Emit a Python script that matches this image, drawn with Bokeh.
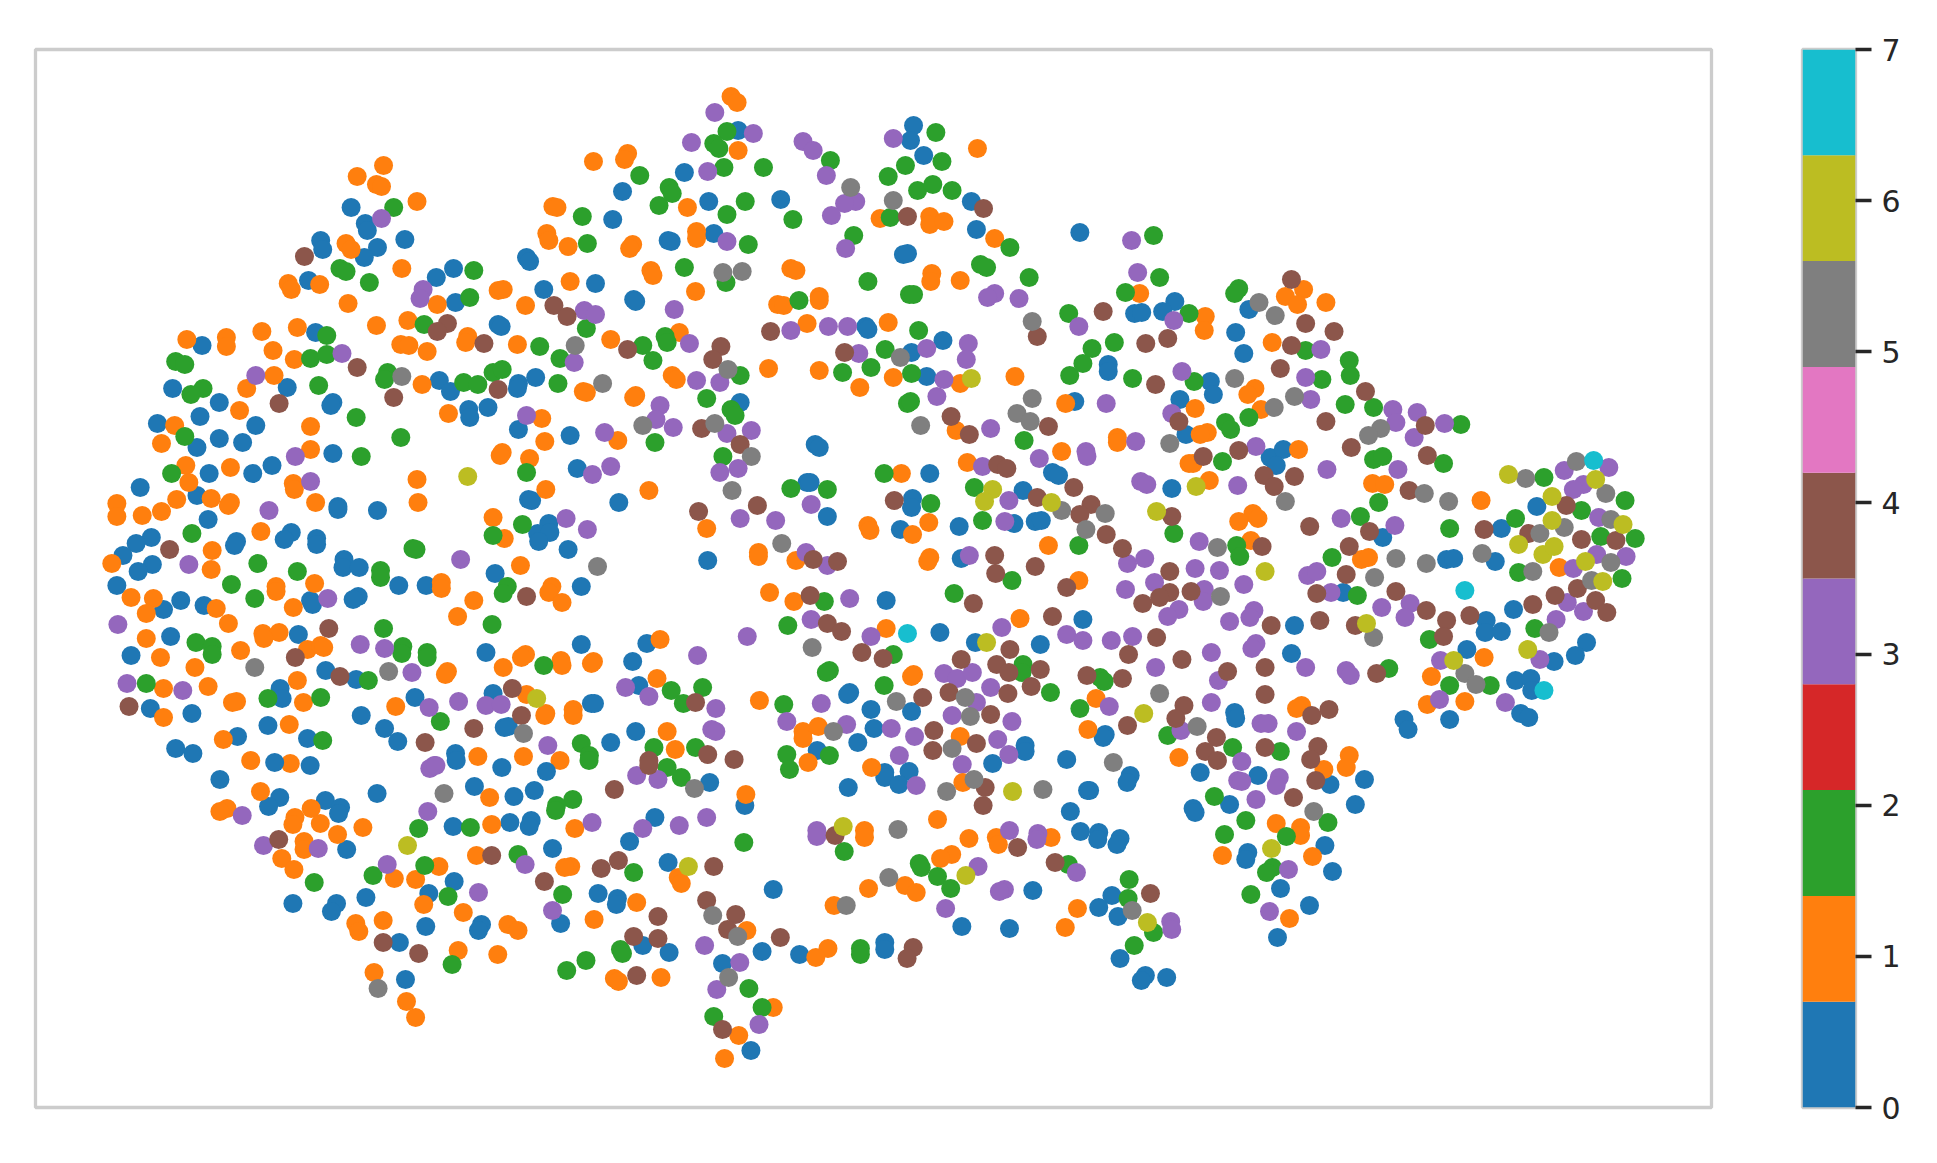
from bokeh.embed import file_html
from bokeh.layouts import row
from bokeh.models import ColumnDataSource, FixedTicker, Range1d
from bokeh.plotting import figure
from bokeh.resources import INLINE

t1_0 = [(347,207),(361,223),(363,230),(317,240),(319,249),(373,247),(360,257),(400,239),(448,268),(431,277),(305,280),(450,302),(492,324),(495,326),(520,257),(523,261),(537,289),(588,283),(605,219),(312,332),(200,345),(171,388),(217,402),(284,387),(329,402),(327,405),(434,380),(445,391),(463,409),(464,417),(482,407),(512,383),(511,388),(529,377),(198,416),(156,423),(253,425),(217,438),(240,442),(195,447),(512,429),(563,435),(329,453),(269,465)]
t1_1 = [(379,165),(353,176),(372,184),(377,186),(412,201),(342,243),(347,249),(397,268),(285,283),(288,289),(316,284),(344,303),(432,304),(492,290),(497,289),(519,305),(563,281),(586,161),(546,206),(550,207),(540,233),(542,240),(561,246),(185,339),(224,337),(224,346),(259,331),(294,327),(270,350),(291,359),(372,325),(403,320),(396,344),(404,345),(422,351),(462,336),(460,342),(511,344),(603,339),(271,375),(244,388),(237,410),(417,384),(576,391),(579,392),(443,413),(535,418),(538,441),(173,425),(160,443),(307,426),(307,449),(496,452),(523,458),(494,455),(610,440)]
t1_2 = [(389,207),(336,268),(342,271),(365,282),(468,270),(464,297),(419,324),(575,216),(580,243),(533,346),(579,328),(553,358),(323,335),(307,358),(323,354),(174,361),(183,364),(315,385),(383,372),(380,379),(458,382),(472,384),(487,372),(496,369),(551,383),(201,388),(189,394),(352,417),(183,436),(396,437),(357,456)]
t1_3 = [(377,218),(418,289),(415,298),(577,310),(588,314),(338,353),(567,362),(253,375),(520,415),(597,432),(292,456)]
t1_4 = [(301,256),(547,305),(560,316),(442,323),(432,331),(478,343),(353,367),(492,389),(389,397),(276,403)]
t1_5 = [(397,376),(568,345),(595,383)]

t2_0 = [(909,125),(906,140),(736,130),(919,155),(683,172),(622,191),(778,199),(707,201),(966,201),(971,229),(1073,232),(667,240),(670,241),(712,233),(899,254),(903,253),(633,299),(635,301),(862,326),(864,329),(938,340),(907,352),(922,376),(1068,401),(1101,364),(1101,371),(1127,313),(1134,312),(738,402),(812,444),(816,447)]
t2_1 = [(729,96),(735,102),(736,150),(627,153),(624,159),(686,207),(695,231),(695,238),(632,244),(629,248),(650,270),(652,275),(694,291),(788,268),(793,270),(775,304),(781,305),(816,296),(816,300),(876,218),(925,216),(925,224),(939,221),(972,148),(989,238),(927,273),(926,281),(955,280),(804,323),(884,322),(678,332),(671,375),(675,379),(635,395),(633,397),(766,368),(816,370),(889,377),(856,387),(955,383),(1009,376),(1132,293),(1059,403),(951,430),(1110,437),(1110,442),(1055,451)]
t2_2 = [(725,131),(712,143),(717,148),(931,132),(827,160),(901,165),(937,161),(884,176),(722,167),(761,167),(639,175),(668,187),(671,193),(658,205),(743,201),(725,214),(913,190),(928,184),(947,190),(790,219),(886,217),(850,235),(746,244),(1004,247),(683,267),(724,282),(975,264),(981,267),(1023,277),(864,281),(905,294),(909,294),(796,300),(1118,292),(1062,313),(914,330),(664,336),(666,342),(642,345),(652,360),(881,349),(1107,342),(1085,348),(1076,363),(1063,375),(1125,378),(839,372),(867,367),(907,373),(738,375),(705,398),(903,403),(906,401),(729,409),(733,415),(654,442),(1018,440),(721,456)]
t2_3 = [(713,112),(751,133),(690,142),(800,141),(810,150),(889,138),(706,171),(823,175),(852,201),(841,203),(828,215),(842,248),(725,241),(1124,240),(1130,272),(989,293),(982,297),(1013,298),(673,309),(788,330),(825,326),(844,326),(1072,326),(688,343),(855,353),(922,348),(963,343),(961,359),(695,380),(718,382),(939,379),(932,396),(659,405),(655,419),(672,427),(725,433),(749,430),(1099,403),(985,428),(1128,441),(1079,451),(1080,456),(1033,458)]
t2_4 = [(978,208),(903,216),(1096,311),(768,331),(1031,336),(1138,343),(627,349),(719,346),(711,359),(841,352),(946,416),(964,434),(1042,426),(700,428),(738,444)]
t2_5 = [(847,187),(889,200),(721,272),(740,271),(1026,321),(896,357),(726,369),(1026,398),(1011,413),(1024,421),(642,425),(713,423),(916,425),(749,456)]
t2_6 = [(966,378)]

t3_0 = [(1174,301),(1162,311),(1247,309),(1234,332),(1242,353),(1209,381),(1212,394),(1179,399),(1185,434),(1268,457),(1281,449),(1274,465),(1171,488),(1531,506),(1496,528),(1379,537)]
t3_1 = [(1204,316),(1203,330),(1283,296),(1301,289),(1295,304),(1323,302),(1270,342),(1253,388),(1246,394),(1194,408),(1259,409),(1206,432),(1199,434),(1296,449),(1188,463),(1192,463),(1208,480),(1369,483),(1381,484),(1476,500),(1251,513),(1256,518),(1237,521),(1249,540)]
t3_2 = [(1153,235),(1159,277),(1237,288),(1233,293),(1188,313),(1303,350),(1346,360),(1347,375),(1193,381),(1319,379),(1342,404),(1370,407),(1247,417),(1224,422),(1229,429),(1456,424),(1370,459),(1379,456),(1221,461),(1439,463),(1538,477),(1618,500),(1375,502),(1575,510),(1510,518),(1357,516),(1445,528),(1173,533),(1594,536),(1628,538),(1235,545)]
t3_3 = [(1173,320),(1318,349),(1181,371),(1303,377),(1308,399),(1389,409),(1413,412),(1171,413),(1392,422),(1440,423),(1410,437),(1254,446),(1394,469),(1324,469),(1602,467),(1558,470),(1577,484),(1567,489),(1236,485),(1338,518),(1391,525),(1592,517),(1198,541)]
t3_4 = [(1289,279),(1303,323),(1331,331),(1167,338),(1289,345),(1278,368),(1155,384),(1362,391),(1421,425),(1323,421),(1178,421),(1348,447),(1237,450),(1423,455),(1202,456),(1262,475),(1292,476),(1272,486),(1405,490),(1560,505),(1171,516),(1307,526),(1479,529),(1366,531),(1523,533),(1575,539),(1609,540)]
t3_5 = [(1257,302),(1273,315),(1233,378),(1292,396),(1272,407),(1377,428),(1365,435),(1169,443),(1420,493),(1283,501),(1444,501),(1570,461),(1520,478),(1599,493),(1604,519),(1558,527),(1534,533)]
t3_6 = [(1195,486),(1156,511),(1503,474),(1589,479),(1546,496),(1546,520),(1616,524)]
t3_7 = [(1587,460)]

t4_0 = [(139,487),(207,473),(250,473),(195,495),(206,519),(334,506),(334,509),(373,510),(570,468),(522,499),(525,500),(611,502),(150,537),(135,543),(122,555),(151,564),(137,571),(116,585),(234,541),(232,545),(288,532),(281,539),(313,538),(313,544),(542,523),(531,533),(543,532),(532,541),(561,549),(340,559),(339,567),(355,567),(394,585),(421,585),(489,573),(574,586),(179,600),(162,609),(202,605),(354,596),(349,599),(307,600),(309,604),(169,636),(130,655),(295,634),(322,670),(352,679),(277,688),(279,698),(480,652),(574,644),(149,708),(190,713),(410,697),(487,693),(584,703),(587,703),(265,725),(357,715),(498,727),(502,726),(235,736),(304,738),(380,728),(393,741),(174,748),(191,753),(450,753),(603,742)]
t4_1 = [(184,465),(228,467),(187,482),(290,483),(291,489),(539,489),(412,479),(413,502),(312,502),(487,517),(498,538),(116,503),(116,516),(141,515),(160,511),(175,499),(209,498),(228,502),(226,505),(258,531),(210,550),(209,569),(111,563),(514,565),(311,583),(273,586),(273,591),(436,582),(436,588),(545,586),(542,592),(555,602),(130,597),(152,598),(145,613),(214,608),(290,607),(468,600),(452,616),(226,623),(145,638),(260,633),(276,632),(261,638),(159,657),(238,650),(304,649),(317,645),(320,647),(193,667),(519,654),(515,657),(554,660),(555,665),(497,667),(586,661),(584,663),(442,671),(440,674),(294,680),(162,688),(206,686),(520,694),(234,701),(230,702),(300,702),(391,706),(539,713),(538,715),(566,709),(566,715),(162,717),(286,724),(221,739),(472,756),(517,756),(553,760),(248,760),(287,763)]
t4_2 = [(170,473),(520,472),(516,524),(487,535),(190,533),(408,548),(411,549),(255,563),(294,571),(376,570),(376,577),(229,584),(501,586),(497,593),(252,598),(486,624),(379,628),(194,642),(210,646),(210,654),(398,646),(397,653),(422,652),(422,657),(537,665),(145,683),(364,680),(265,698),(317,697),(435,721),(319,740),(574,743),(582,755)]
t4_3 = [(307,481),(585,474),(603,466),(266,510),(559,518),(580,529),(455,559),(187,564),(324,598),(117,624),(356,644),(380,648),(407,672),(126,683),(181,690),(453,701),(424,707),(480,705),(495,704),(541,745),(429,765)]
t4_4 = [(168,549),(520,596),(325,628),(292,657),(336,676),(506,688),(128,706),(515,715),(468,728),(420,742)]
t4_5 = [(590,566),(252,667),(384,671),(517,733)]
t4_6 = [(462,476),(530,698)]

t5_0 = [(925,473),(804,482),(807,482),(824,516),(908,498),(907,507),(1046,472),(1052,475),(1017,490),(896,529),(954,526),(1029,521),(1035,520),(1008,523),(956,558),(706,560),(882,600),(935,632),(1076,619),(970,642),(1034,644),(646,643),(632,661),(638,685),(846,692),(844,694),(867,709),(907,711),(635,731),(870,728),(854,742),(814,750),(1098,734),(1096,737),(1019,745),(1019,751),(1060,759),(987,763)]
t5_1 = [(648,490),(897,473),(962,462),(864,525),(866,530),(924,522),(908,534),(705,528),(1042,545),(756,552),(756,556),(925,557),(923,561),(793,560),(1072,580),(767,592),(791,601),(882,628),(1014,618),(659,639),(656,678),(909,674),(907,676),(757,700),(1089,698),(666,731),(674,749),(800,731),(815,726),(800,738),(1081,729),(955,736),(805,762)]
t5_2 = [(880,473),(788,488),(824,489),(969,487),(926,503),(977,520),(1072,545),(1006,580),(949,593),(821,601),(785,625),(889,654),(826,670),(823,672),(1017,664),(1016,672),(1093,677),(1097,681),(1044,692),(880,685),(701,687),(670,690),(682,703),(781,704),(1073,708),(653,747),(694,747),(784,754),(826,755)]
t5_3 = [(718,472),(736,468),(977,466),(1133,481),(1139,484),(808,504),(1003,500),(738,518),(773,520),(999,521),(964,555),(803,552),(824,565),(1120,563),(1137,558),(1118,589),(846,598),(808,619),(867,636),(996,627),(1060,634),(1076,640),(1104,640),(1125,636),(745,636),(696,655),(939,673),(952,678),(967,672),(648,696),(625,687),(985,687),(1102,706),(818,703),(714,708),(971,702),(947,715),(1006,721),(710,729),(714,731),(784,721),(843,724),(887,728),(992,739),(910,736),(895,755),(1003,754),(957,764)]
t5_4 = [(992,464),(1001,468),(1067,487),(890,500),(697,511),(755,505),(1031,497),(1084,504),(1073,514),(1099,534),(1115,548),(989,555),(990,573),(1029,566),(810,559),(834,561),(1060,587),(968,603),(1135,603),(807,595),(824,623),(838,631),(1046,616),(1121,654),(858,652),(879,658),(956,659),(1004,649),(991,664),(1003,672),(1034,669),(1080,675),(1115,678),(1025,686),(944,692),(918,697),(1002,693),(985,714),(694,702),(1120,725),(929,730),(971,743),(928,750),(706,754),(732,759),(648,760)]
t5_5 = [(730,490),(779,543),(1055,510),(1098,513),(1079,529),(809,647),(892,701),(960,697),(965,716),(830,731),(947,748),(1106,762)]
t5_6 = [(987,489),(979,501),(1045,502),(981,642),(1136,713)]
t5_7 = [(903,633)]

t6_0 = [(1442,559),(1449,558),(1490,561),(1340,592),(1292,625),(1508,609),(1481,620),(1480,632),(1496,631),(1462,649),(1580,642),(1569,655),(1548,661),(1289,653),(1510,680),(1525,678),(1526,690),(1515,713),(1523,717),(1445,719),(1400,719),(1404,729),(1233,712),(1234,718),(1199,772),(1256,775),(1361,779),(1327,784),(1192,808),(1194,812),(1228,804),(1352,804),(1322,845)]
t6_1 = [(1358,559),(1365,557),(1553,567),(1479,657),(1427,676),(1460,701),(1423,704),(1299,705),(1294,708),(1178,757),(1346,755),(1343,767),(1321,769),(1274,823),(1298,827),(1298,835)]
t6_2 = [(1238,556),(1329,557),(1354,595),(1513,572),(1615,578),(1425,639),(1385,668),(1529,628),(1445,685),(1485,685),(1167,735),(1231,747),(1278,751),(1213,796),(1244,820),(1325,822),(1223,834),(1284,836)]
t6_3 = [(1194,568),(1218,570),(1305,575),(1314,571),(1590,554),(1619,556),(1567,568),(1154,582),(1242,584),(1328,592),(1203,589),(1202,601),(1406,603),(1378,607),(1401,617),(1561,602),(1577,611),(1550,619),(1178,609),(1167,616),(1252,610),(1248,617),(1228,621),(1436,660),(1534,659),(1210,652),(1254,643),(1250,648),(1155,667),(1303,667),(1343,670),(1347,675),(1217,680),(1210,702),(1500,702),(1435,699),(1259,723),(1266,723),(1294,731),(1180,730),(1240,761),(1236,780),(1240,781),(1277,777),(1274,785),(1254,799)]
t6_4 = [(1346,546),(1260,546),(1169,571),(1343,574),(1169,592),(1159,597),(1190,591),(1392,591),(1314,593),(1422,610),(1442,620),(1317,620),(1465,615),(1439,636),(1352,625),(1269,625),(1156,637),(1181,659),(1226,671),(1263,667),(1373,673),(1263,694),(1183,705),(1175,718),(1326,709),(1309,715),(1527,604),(1549,595),(1571,588),(1589,600),(1600,612),(1215,737),(1204,751),(1216,760),(1263,747),(1315,746),(1308,759),(1313,780),(1291,797)]
t6_5 = [(1216,547),(1392,558),(1422,563),(1477,553),(1527,571),(1604,562),(1371,577),(1219,596),(1585,580),(1370,637),(1543,632),(1460,673),(1471,684),(1159,693),(1196,726),(1311,811)]
t6_6 = [(1263,571),(1513,544),(1537,554),(1548,546),(1579,561),(1596,581),(1363,623),(1449,660),(1522,649)]
t6_7 = [(1460,590),(1538,690)]

t7_0 = [(273,762),(308,765),(452,760),(219,779),(374,793),(278,797),(267,806),(323,800),(338,807),(336,813),(344,849),(470,786),(509,796),(529,790),(541,771),(497,767),(505,822),(449,826),(526,820),(524,826),(547,848),(450,881),(425,893),(363,897),(334,903),(329,911),(291,903),(422,926),(477,924),(474,930),(396,942),(402,979),(592,893),(611,898),(610,904),(555,923),(636,945),(662,952),(648,817),(623,841),(661,862),(702,782)]
t7_1 = [(259,791),(226,808),(219,811),(309,808),(293,817),(291,824),(318,823),(360,827),(335,834),(302,841),(302,849),(280,858),(292,869),(485,797),(487,824),(569,828),(472,855),(565,866),(559,867),(435,866),(391,878),(412,879),(420,904),(459,912),(353,923),(356,931),(380,920),(503,924),(513,930),(588,919),(630,902),(454,950),(493,954),(371,972),(403,1001),(412,1017),(608,978),(612,981),(654,977),(671,877),(674,883)]
t7_2 = [(583,760),(567,799),(551,805),(550,810),(674,777),(466,827),(415,828),(370,875),(421,865),(513,854),(444,896),(627,872),(557,894),(312,882),(614,949),(616,953),(580,960),(561,970),(448,964),(660,767),(706,1016)]
t7_3 = [(241,815),(424,811),(586,822),(630,775),(651,779),(636,828),(672,825),(699,817),(262,845),(316,848),(384,864),(520,864),(474,892),(547,910),(697,945),(709,989),(426,768),(432,765)]
t7_4 = [(277,839),(487,855),(608,789),(595,868),(612,860),(539,881),(706,866),(699,900),(651,916),(627,936),(651,938),(380,942),(415,953),(630,975),(642,765)]
t7_5 = [(440,793),(687,788),(705,915),(375,988)]
t7_6 = [(404,845),(681,866)]

t8_0 = [(846,787),(882,772),(882,777),(906,771),(896,784),(1124,775),(1121,782),(1082,790),(1084,790),(744,805),(1065,811),(1075,831),(1093,832),(1092,839),(1114,838),(1111,844),(772,889),(1028,890),(1106,895),(1093,907),(1112,916),(958,926),(1005,928),(1114,958),(1139,975),(1135,980),(1160,977),(761,951),(798,954),(882,942),(882,949),(722,963),(750,1050),(1240,852),(1238,859)]
t8_1 = [(869,767),(959,782),(745,794),(934,819),(965,838),(992,837),(994,844),(1046,837),(862,830),(862,837),(948,854),(937,858),(866,888),(902,885),(913,892),(832,905),(1072,908),(1060,927),(1215,855),(746,930),(826,948),(814,957),(772,1007),(738,1035),(724,1058)]
t8_2 = [(788,769),(743,842),(842,851),(916,863),(918,867),(934,876),(947,888),(1063,864),(1123,879),(1122,898),(1147,932),(1128,945),(1243,894),(858,948),(858,954),(748,988),(761,1007)]
t8_3 = [(913,785),(1005,830),(1033,833),(1032,839),(815,830),(815,836),(974,866),(1071,872),(1000,889),(995,891),(942,908),(1164,921),(1165,929),(739,962),(758,1024)]
t8_4 = [(981,787),(979,805),(833,835),(1013,847),(1050,862),(1144,893),(735,914),(727,929),(779,937),(910,947),(904,958),(722,1029)]
t8_5 = [(970,779),(943,791),(1038,789),(895,829),(886,877),(844,905),(1126,910),(737,936),(728,977)]
t8_6 = [(1008,791),(841,826),(962,875),(1141,922)]

t9_0 = [(1332,871),(1280,888),(1309,905),(1277,937)]
t9_1 = [(1312,856),(1289,918)]
t9_2 = [(1272,867),(1266,872)]
t9_3 = [(1288,869),(1269,911)]
t9_6 = [(1271,848)]

# Each region: its left edge and its points per label.
regions_with_shrink = [
    (90, {0: t1_0, 1: t1_1, 2: t1_2, 3: t1_3, 4: t1_4, 5: t1_5}),
    (620, {0: t2_0, 1: t2_1, 2: t2_2, 3: t2_3, 4: t2_4, 5: t2_5, 6: t2_6}),
    (1150, {0: t3_0, 1: t3_1, 2: t3_2, 3: t3_3, 4: t3_4, 5: t3_5, 6: t3_6, 7: t3_7}),
    (90, {0: t4_0, 1: t4_1, 2: t4_2, 3: t4_3, 4: t4_4, 5: t4_5, 6: t4_6}),
    (620, {0: t5_0, 1: t5_1, 2: t5_2, 3: t5_3, 4: t5_4, 5: t5_5, 6: t5_6, 7: t5_7}),
    (1150, {0: t6_0, 1: t6_1, 2: t6_2, 3: t6_3, 4: t6_4, 5: t6_5, 6: t6_6, 7: t6_7}),
    (190, {0: t7_0, 1: t7_1, 2: t7_2, 3: t7_3, 4: t7_4, 5: t7_5, 6: t7_6}),
    (720, {0: t8_0, 1: t8_1, 2: t8_2, 3: t8_3, 4: t8_4, 5: t8_5, 6: t8_6}),
]
plain_regions = [{0: t9_0, 1: t9_1, 2: t9_2, 3: t9_3, 6: t9_6}]

tab10 = ["#1f77b4", "#ff7f0e", "#2ca02c", "#d62728", "#9467bd",
         "#8c564b", "#e377c2", "#7f7f7f", "#bcbd22", "#17becf"]
label_ticks = [0, 1, 2, 3, 4, 5, 6, 7]


def colour_of(label):
    return tab10[min(int(label / 7 * 10), 9)]


xs, ys, cs = [], [], []
READ_SCALE = 1590 / 1568  # crops wider than 1568 were shown slightly reduced
for x0, groups in regions_with_shrink:
    for label, pts in groups.items():
        for x, y in pts:
            xs.append(x0 + (x - x0) * READ_SCALE)
            ys.append(y)
            cs.append(colour_of(label))
for groups in plain_regions:
    for label, pts in groups.items():
        for x, y in pts:
            xs.append(x)
            ys.append(y)
            cs.append(colour_of(label))

FRAME = "#cccccc"
p = figure(width=1778, height=1147, output_backend="svg", toolbar_location=None,
           x_range=Range1d(35, 1711), y_range=Range1d(1107, 49),
           min_border_left=35, min_border_right=67, min_border_top=49, min_border_bottom=40,
           background_fill_color="white", border_fill_color="white")
p.axis.visible = False
p.grid.visible = False
p.outline_line_color = FRAME
p.outline_line_width = 3.3
p.scatter("x", "y", source=ColumnDataSource(dict(x=xs, y=ys, c=cs)), size=19,
          fill_color="c", line_color="c", line_width=0)

n = len(tab10)
bottoms = [7 * i / n for i in range(n)]
tops = [7 * (i + 1) / n for i in range(n)]
cb = figure(width=137, height=1147, output_backend="svg", toolbar_location=None,
            x_range=Range1d(0, 1), y_range=Range1d(0, 7),
            x_axis_location=None, y_axis_location="right",
            min_border_left=24, min_border_right=60, min_border_top=49, min_border_bottom=40)
cb.quad(left=0, right=1, bottom=bottoms, top=tops, fill_color=tab10, line_color=None)
cb.grid.visible = False
cb.outline_line_color = FRAME
cb.outline_line_width = 3.3
ax = cb.yaxis[0]
ax.ticker = FixedTicker(ticks=label_ticks)
ax.axis_line_color = None
ax.major_tick_in = 0
ax.major_tick_out = 16
ax.major_tick_line_width = 3.3
ax.major_tick_line_color = "#262626"
ax.minor_tick_line_color = None
ax.major_label_text_font = "DejaVu Sans"
ax.major_label_text_font_size = "30px"
ax.major_label_text_color = "#262626"
ax.major_label_standoff = 10

layout = row(p, cb, spacing=0)
open("out.html", "w").write(file_html(layout, INLINE))
